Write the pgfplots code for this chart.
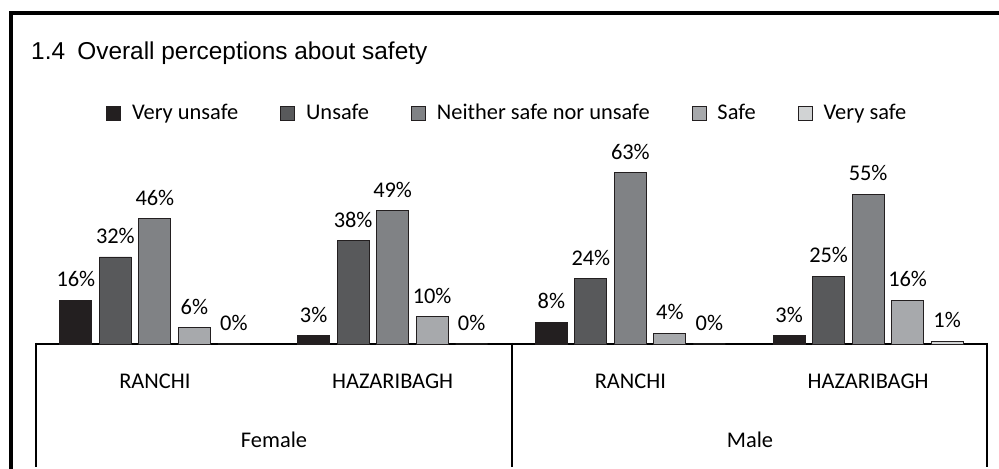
\documentclass[border=0pt]{standalone}
\usepackage{fontspec}
\setmainfont{Carlito}
\newfontfamily\arialf{Liberation Sans}
\usepackage{pgfplots}
\pgfplotsset{compat=1.18}
\definecolor{c1}{HTML}{231F20}
\definecolor{c2}{HTML}{58595B}
\definecolor{c3}{HTML}{808285}
\definecolor{c4}{HTML}{A7A9AC}
\definecolor{c5}{HTML}{D1D3D4}
\definecolor{edge}{HTML}{231F20}
\newcommand{\fs}{\fontsize{22.5}{27}\selectfont}
\pgfplotsset{sqlegend/.style={legend image code/.code={\draw[##1,line width=0.8bp] (0bp,-6bp) rectangle (14bp,8bp);}}}
\begin{document}
\begin{tikzpicture}
\useasboundingbox (0,0) rectangle (999bp,469bp);
\begin{scope}
\clip (0,0) rectangle (999bp,469bp);
\draw[line width=3.6bp] (11bp,-20bp) rectangle (1040bp,456bp);
\end{scope}
\node[anchor=base west, font=\arialf\fontsize{24.5}{29}\selectfont, inner sep=0pt] at (31bp,409bp) {1.4\hspace{0.5em}Overall perceptions about safety};
\begin{axis}[
  at={(36bp,125bp)}, anchor=south west, scale only axis,
  width=951bp, height=190.4bp,
  xmin=-0.5, xmax=3.5, ymin=0, ymax=70,
  ybar=7.5bp, bar width=32bp,
  axis y line=none, axis x line=bottom,
  x axis line style={-, line width=2bp, black},
  xtick={0,1,2,3},
  xticklabels={RANCHI,HAZARIBAGH,RANCHI,HAZARIBAGH},
  xtick style={draw=none}, major tick length=0pt,
  xticklabel style={font=\fs, anchor=center, yshift=-37bp, inner sep=0pt},
  clip=false,
  /pgf/number format/assume math mode=true,
  nodes near coords={\pgfmathprintnumber{\pgfplotspointmeta}\%},
  every node near coord/.append style={font=\fs, text=black, anchor=south, inner sep=0pt, yshift=13bp},
  legend columns=5, legend cell align=left,
  legend style={at={(0.4945,1.205)}, anchor=center, draw=none, fill=none, font=\fs,
    nodes={text height=14bp, text depth=4bp, inner sep=0pt},
    column sep=11bp, /tikz/every even column/.append style={column sep=42bp}},
]
\addplot[fill=c1, draw=edge, line width=0.8bp, sqlegend] coordinates {(0,16) (1,3) (2,8) (3,3)};
\addplot[fill=c2, draw=edge, line width=0.8bp, sqlegend] coordinates {(0,32) (1,38) (2,24) (3,25)};
\addplot[fill=c3, draw=edge, line width=0.8bp, sqlegend] coordinates {(0,46) (1,49) (2,63) (3,55)};
\addplot[fill=c4, draw=edge, line width=0.8bp, sqlegend] coordinates {(0,6) (1,10) (2,4) (3,16)};
\addplot[fill=c5, draw=edge, line width=0.8bp, sqlegend] coordinates {(0,0) (1,0) (2,0) (3,1)};
\legend{Very unsafe, Unsafe, Neither safe nor unsafe, Safe, Very safe}
\end{axis}
\draw[line width=2bp] (36bp,126bp) -- (36bp,2bp);
\draw[line width=2bp] (512bp,126bp) -- (512bp,2bp);
\draw[line width=2bp] (987bp,126bp) -- (987bp,2bp);
\node[font=\fs, inner sep=0pt] at (274bp,29bp) {Female};
\node[font=\fs, inner sep=0pt] at (750bp,29bp) {Male};
\end{tikzpicture}
\end{document}
